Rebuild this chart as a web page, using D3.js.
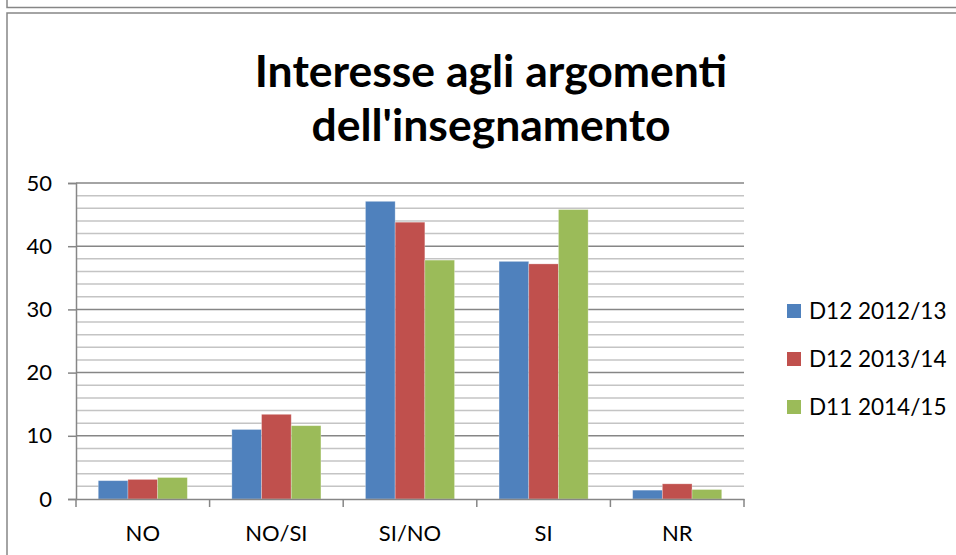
<!DOCTYPE html>
<html>
<head>
<meta charset="utf-8">
<script src="https://cdn.jsdelivr.net/npm/d3@7"></script>
<style>
  body { margin: 0; background: #fff; }
  text { font-family: Lato, "Open Sans", sans-serif; fill: #000; }
</style>
</head>
<body>
<script>
// chart data
var categories = ["NO", "NO/SI", "SI/NO", "SI", "NR"];
var seriesNames = ["D12 2012/13", "D12 2013/14", "D11 2014/15"];
var d12_2012 = [2.9, 11.0, 47.1, 37.6, 1.4];
var d12_2013 = [3.1, 13.4, 43.8, 37.2, 2.4];
var d11_2014 = [3.4, 11.6, 37.8, 45.8, 1.5];
var yTicks = [0, 10, 20, 30, 40, 50];
var titleLines = ["Interesse agli argomenti", "dell'insegnamento"];

var colors = ["#4F81BD", "#C0504D", "#9BBB59"];
var allSeries = [d12_2012, d12_2013, d11_2014];

var width = 956, height = 555;
var plot = {left: 76, right: 744, top: 183, bottom: 499};

var svg = d3.select("body").append("svg")
  .attr("width", width)
  .attr("height", height);

// frames (previous chart bottom + this chart's border)
svg.append("path")
  .attr("d", "M7,0 V7.5 H956")
  .attr("fill", "none").attr("stroke", "#868686").attr("stroke-width", 1.5);
svg.append("path")
  .attr("d", "M956,13 H7 V555")
  .attr("fill", "none").attr("stroke", "#868686").attr("stroke-width", 1.5);

// title
svg.append("g").selectAll("text")
  .data(titleLines)
  .join("text")
  .attr("x", 491)
  .attr("y", function (d, i) { return 87 + i * 54; })
  .attr("text-anchor", "middle")
  .style("font-size", "44.5px")
  .style("font-weight", "bold")
  .text(function (d) { return d; });

// scales
var x = d3.scaleBand().domain(categories).range([plot.left, plot.right]);
var y = d3.scaleLinear().domain([0, 50]).range([plot.bottom, plot.top]);

// minor gridlines every 2
var minor = d3.range(2, 50, 2).filter(function (v) { return v % 10 !== 0; });
svg.append("g").selectAll("line")
  .data(minor)
  .join("line")
  .attr("x1", plot.left).attr("x2", plot.right)
  .attr("y1", function (d) { return y(d); })
  .attr("y2", function (d) { return y(d); })
  .attr("stroke", "#c4c4c4").attr("stroke-width", 1.5);

// major gridlines
svg.append("g").selectAll("line")
  .data(yTicks.filter(function (v) { return v > 0; }))
  .join("line")
  .attr("x1", plot.left).attr("x2", plot.right)
  .attr("y1", function (d) { return y(d); })
  .attr("y2", function (d) { return y(d); })
  .attr("stroke", "#868686").attr("stroke-width", 1.5);

// bars
var inner = d3.scaleBand().domain(d3.range(seriesNames.length))
  .range([0, x.bandwidth()]).paddingInner(0).paddingOuter(0.75);
var groups = svg.append("g").selectAll("g")
  .data(allSeries)
  .join("g")
  .attr("fill", function (d, i) { return colors[i]; });
groups.each(function (vals, si) {
  d3.select(this).selectAll("rect")
    .data(vals)
    .join("rect")
    .attr("x", function (d, i) { return x(categories[i]) + inner(si); })
    .attr("width", inner.bandwidth())
    .attr("y", function (d) { return y(d); })
    .attr("height", function (d) { return y(0) - y(d); })
    .attr("stroke", "rgba(255,255,255,0.35)")
    .attr("stroke-width", 0.8);
});

// y axis
var yAxis = svg.append("g")
  .attr("transform", "translate(" + plot.left + ",0)")
  .call(d3.axisLeft(y).tickValues(yTicks).tickSize(8).tickPadding(16));
yAxis.select(".domain").attr("stroke", "#868686").attr("stroke-width", 1.5);
yAxis.selectAll(".tick line").attr("stroke", "#868686").attr("stroke-width", 1.5);
yAxis.selectAll(".tick text").style("font-size", "22px").style("font-family", "Lato, sans-serif");

// x axis
var xAxis = svg.append("g")
  .attr("transform", "translate(0," + plot.bottom + ")")
  .call(d3.axisBottom(x).tickSize(0).tickPadding(26));
xAxis.select(".domain").attr("stroke", "#868686").attr("stroke-width", 1.5);
xAxis.selectAll(".tick text").style("font-size", "22px").style("font-family", "Lato, sans-serif");
xAxis.selectAll("line.sep")
  .data(d3.range(categories.length + 1))
  .join("line")
  .attr("class", "sep")
  .attr("x1", function (d) { return plot.left + d * x.step(); })
  .attr("x2", function (d) { return plot.left + d * x.step(); })
  .attr("y1", 0).attr("y2", 8)
  .attr("stroke", "#868686").attr("stroke-width", 1.5);

// legend
var legend = svg.append("g").selectAll("g")
  .data(seriesNames)
  .join("g")
  .attr("transform", function (d, i) { return "translate(787," + (304 + i * 48) + ")"; });
legend.append("rect")
  .attr("width", 14).attr("height", 14)
  .attr("fill", function (d, i) { return colors[i]; });
legend.append("text")
  .attr("x", 22).attr("y", 7)
  .attr("dy", "0.35em")
  .style("font-size", "22.5px")
  .text(function (d) { return d; });
</script>
</body>
</html>
